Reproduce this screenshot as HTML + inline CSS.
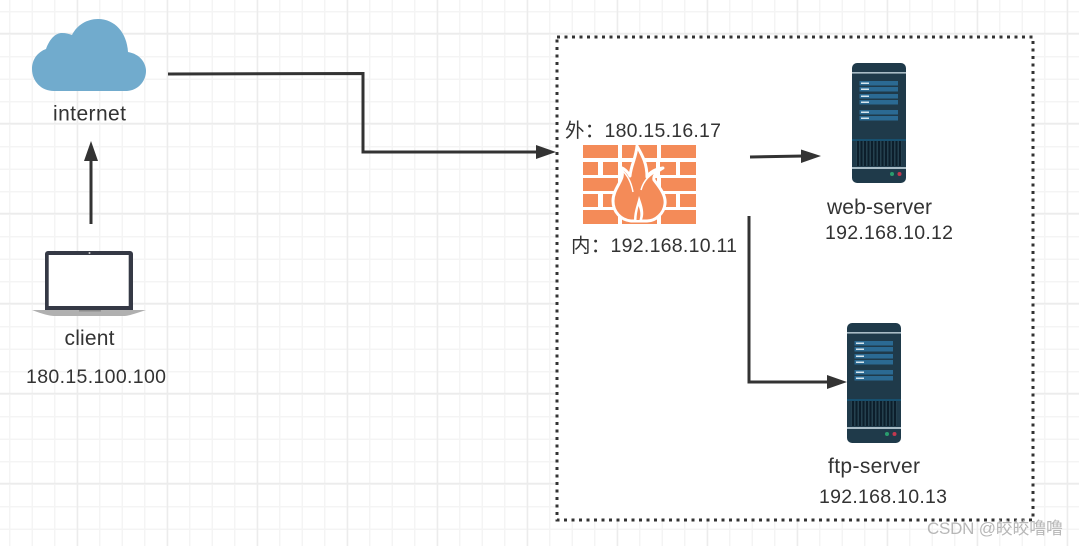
<!DOCTYPE html>
<html><head><meta charset="utf-8"><style>
html,body{margin:0;padding:0;background:#fff;width:1079px;height:546px;overflow:hidden}
svg{display:block}
text{font-family:"Liberation Sans","Noto Sans CJK SC",sans-serif;font-size:19.5px;fill:#333}
.w{font-size:21px}
</style></head><body>
<svg width="1079" height="546" viewBox="0 0 1079 546" xmlns="http://www.w3.org/2000/svg">
<defs>
<pattern id="gx" width="22.5" height="22.5" patternUnits="userSpaceOnUse" x="9" y="11">
<path d="M0.75 0V22.5M0 0.75H22.5" stroke="#f4f4f4" stroke-width="1.5" fill="none"/>
</pattern>
<g id="srv">
<rect x="0" y="0" width="54" height="120" rx="5" fill="#1f3a4a"/>
<rect x="0" y="9" width="54" height="1.6" fill="#a9bcc6"/>
<rect x="7.500" y="18" width="38.500" height="4.500" fill="#2b6a93"/><rect x="7.500" y="24" width="38.500" height="4.500" fill="#2b6a93"/>
<rect x="7.500" y="31" width="38.500" height="4.500" fill="#2b6a93"/><rect x="7.500" y="37" width="38.500" height="4.500" fill="#2b6a93"/>
<rect x="7.500" y="47" width="38.500" height="4.500" fill="#2b6a93"/><rect x="7.500" y="53" width="38.500" height="4.500" fill="#2b6a93"/>
<rect x="9" y="19.500" width="8" height="1.500" fill="#d5e5ee"/><rect x="9" y="25.500" width="8" height="1.500" fill="#d5e5ee"/>
<rect x="9" y="32.500" width="8" height="1.500" fill="#d5e5ee"/><rect x="9" y="38.500" width="8" height="1.500" fill="#d5e5ee"/>
<rect x="9" y="48.500" width="8" height="1.500" fill="#d5e5ee"/><rect x="9" y="54.500" width="8" height="1.500" fill="#d5e5ee"/>
<rect x="0" y="76" width="54" height="2" fill="#17506f"/>
<rect x="4" y="78" width="46" height="25" fill="#25414f"/>
<path d="M6 78v25M9.500 78v25M13 78v25M16.500 78v25M20 78v25M23.500 78v25M27 78v25M30.500 78v25M34 78v25M37.500 78v25M41 78v25M44.500 78v25M48 78v25" stroke="#0c1e2b" stroke-width="2"/>
<rect x="0" y="104" width="54" height="2" fill="#a9bcc6"/>
<circle cx="40" cy="111" r="2" fill="#2a9d6e"/><circle cx="47.500" cy="111" r="2" fill="#c2384f"/>
</g>
</defs>
<rect width="1079" height="546" fill="#fff"/>
<rect width="1079" height="546" fill="url(#gx)"/>
<path d="M77.500 0V546M167.500 0V546M257.500 0V546M347.500 0V546M437.500 0V546M527.500 0V546M617.500 0V546M707.500 0V546M797.500 0V546M887.500 0V546M977.500 0V546M1067.500 0V546M0 33.500H1079M0 123.500H1079M0 213.500H1079M0 303.500H1079M0 393.500H1079M0 483.500H1079" stroke="#ececec" stroke-width="1.500" fill="none"/>

<rect x="557" y="37" width="476" height="483" fill="#fff"/>
<rect x="557" y="37" width="476" height="483" fill="none" stroke="#333" stroke-width="3" stroke-dasharray="3 4.500"/>

<path d="M54 91C41 91 32 81 32 69C32 59 38 52 46 49C50 38 56 33 62 33C66 33 69 34 72 35C77 25 87 19 98 19C115 19 127 33 128 52C140 54 146 63 146 71C146 82 137 91 126 91Z" fill="#71abcd"/>

<path d="M45 310V254a3 3 0 0 1 3-3H130a3 3 0 0 1 3 3V310Z" fill="#353945"/>
<rect x="48.700" y="255" width="80" height="51" fill="#fff"/>
<circle cx="89.500" cy="253" r="1" fill="#ccc"/>
<path d="M32 310H146C134 314 128 316 124 316H54C50 316 42 314 32 310Z" fill="#b0b0b0"/>
<rect x="79" y="310" width="22" height="1.500" fill="#8c8c8c"/>

<g fill="#f48b58">
<rect x="583" y="145" width="35" height="13"/><rect x="622" y="145" width="35" height="13"/><rect x="661" y="145" width="35" height="13"/>
<rect x="583" y="162" width="15" height="13"/><rect x="603" y="162" width="15" height="13"/><rect x="622" y="162" width="34" height="13"/><rect x="660" y="162" width="16" height="13"/><rect x="680" y="162" width="16" height="13"/>
<rect x="583" y="178" width="35" height="13"/><rect x="622" y="178" width="35" height="13"/><rect x="661" y="178" width="35" height="13"/>
<rect x="583" y="194" width="15" height="13"/><rect x="603" y="194" width="15" height="13"/><rect x="622" y="194" width="34" height="13"/><rect x="660" y="194" width="16" height="13"/><rect x="680" y="194" width="16" height="13"/>
<rect x="583" y="210" width="35" height="14"/><rect x="622" y="210" width="35" height="14"/><rect x="661" y="210" width="35" height="14"/>
</g>
<path d="M637 146C642 155 647 163 647 177C650 172 655 169 663 168C656 172 653 176 654 180C661 189 666 196 665 204C664 213 656 221 647 221H631C621 220 613 212 613 201C613 191 620 184 622 177C623 173 622 170 620 167C625 169 628 172 630 176C631 165 636 158 637 146Z" fill="#f48b58" stroke="#fff" stroke-width="3" stroke-linejoin="round"/>
<path d="M622 170C627 175 631 181 633 192M660 170C652 173 644 179 641 190" fill="none" stroke="#fff" stroke-width="1.500"/>
<path d="M639 196C642 205 645 212 642 220H634C634 211 637 205 639 196Z" fill="#fff"/>
<path d="M638.500 206C640.500 211 641 215 639.500 220H636.500C636.500 215 637.500 211 638.500 206Z" fill="#f48b58"/>

<use href="#srv" x="852" y="63"/>
<use href="#srv" x="847" y="323"/>

<g fill="none" stroke="#333" stroke-width="3">
<path d="M91 224V160"/>
<path d="M168 74L363 73.500V152H538"/>
<path d="M750 157L804 156"/>
<path d="M749 216V382H828"/>
</g>
<g fill="#333">
<path d="M91 141L98 161H84Z"/>
<path d="M556 152L536 145V159Z"/>
<path d="M821 156L801 149.500V163Z"/>
<path d="M847 382L827 375V389Z"/>
</g>

<text class="w" x="53" y="120.500" textLength="73">internet</text>
<text class="w" x="64.500" y="345" textLength="50">client</text>
<text x="26" y="383" textLength="140">180.15.100.100</text>
<text x="565" y="137" textLength="156">外：180.15.16.17</text>
<text x="571" y="252" textLength="166">内：192.168.10.11</text>
<text class="w" x="827" y="214" textLength="105">web-server</text>
<text x="825" y="239" textLength="128">192.168.10.12</text>
<text class="w" x="828" y="473" textLength="92">ftp-server</text>
<text x="819" y="503" textLength="128">192.168.10.13</text>
<text x="927" y="534" textLength="136" style="font-size:17px;fill:#b4b4b4;opacity:.95">CSDN @皎皎噜噜</text>
</svg>
</body></html>
